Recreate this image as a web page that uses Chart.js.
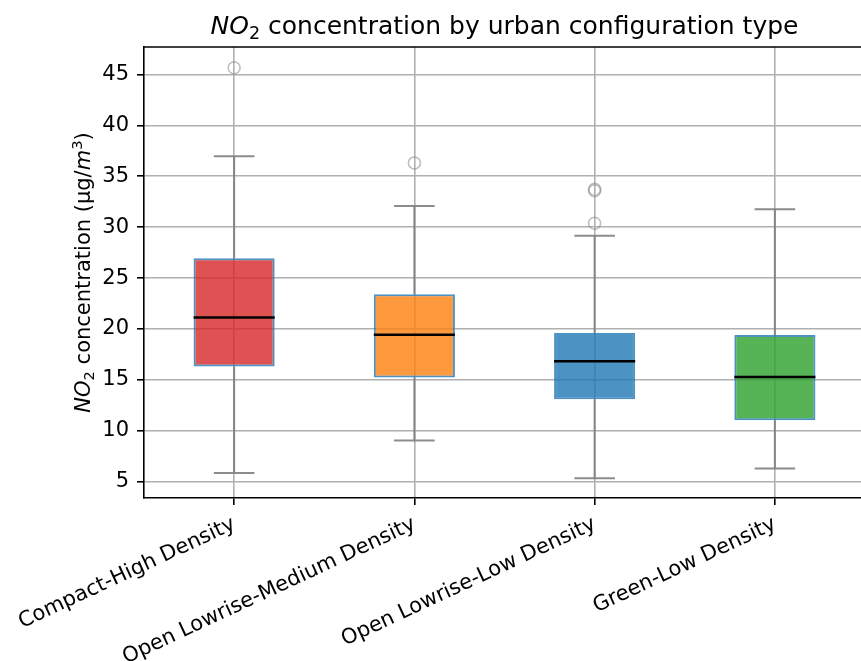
<!DOCTYPE html>
<html>
<head>
<meta charset="utf-8">
<script src="https://cdn.jsdelivr.net/npm/chart.js@4/dist/chart.umd.min.js"></script>
<style>
  html, body { margin: 0; padding: 0; background: #fff; overflow: hidden; }
  canvas { display: block; }
</style>
</head>
<body>
<canvas id="c" width="866" height="661" style="width:866px;height:661px"></canvas>
<script>
// NO2 concentration summary statistics per urban configuration type (µg/m³)
const categories = ['Compact-High Density', 'Open Lowrise-Medium Density', 'Open Lowrise-Low Density', 'Green-Low Density'];
const whiskerLow  = [5.85, 9.03, 5.32, 6.28];
const q1          = [16.31, 15.23, 13.10, 11.03];
const median      = [21.13, 19.42, 16.83, 15.29];
const q3          = [26.94, 23.40, 19.59, 19.40];
const whiskerHigh = [36.97, 32.08, 29.16, 31.76];
const outliers    = [[45.66], [36.31], [30.38, 33.58, 33.72], []];
const yTicks      = [5, 10, 15, 20, 25, 30, 35, 40, 45];

const boxColors = ['rgba(214,39,40,0.8)', 'rgba(255,127,14,0.8)', 'rgba(31,119,180,0.8)', 'rgba(44,160,44,0.8)'];
const FAMILY = "'DejaVu Sans'";

// Draw a line of mixed text runs (italic / subscript / superscript), centred on the origin.
function drawRuns(ctx, runs, size) {
  const fontFor = r => `${r.italic ? 'italic ' : ''}${(r.sub || r.sup) ? size * 0.7 : size}px ${FAMILY}`;
  let total = 0;
  runs.forEach(r => { ctx.font = fontFor(r); r.w = ctx.measureText(r.text).width; total += r.w; });
  let x = -total / 2;
  ctx.textAlign = 'left';
  ctx.textBaseline = 'alphabetic';
  runs.forEach(r => {
    ctx.font = fontFor(r);
    const dy = r.sub ? size * 0.2 : (r.sup ? -size * 0.38 : 0);
    ctx.fillText(r.text, x, dy);
    x += r.w;
  });
}

const boxDecor = {
  id: 'boxDecor',
  afterDatasetsDraw(chart) {
    const { ctx, chartArea, scales: { x, y } } = chart;
    const boxes = chart.getDatasetMeta(0).data;
    ctx.save();
    categories.forEach((c, i) => {
      const cx = x.getPixelForValue(i);
      const half = boxes[i].width / 2;
      const capHalf = half / 2;
      ctx.strokeStyle = 'rgba(128,128,128,0.9)';
      ctx.lineWidth = 2;
      ctx.beginPath();
      ctx.moveTo(cx, y.getPixelForValue(q1[i]));
      ctx.lineTo(cx, y.getPixelForValue(whiskerLow[i]));
      ctx.moveTo(cx, y.getPixelForValue(q3[i]));
      ctx.lineTo(cx, y.getPixelForValue(whiskerHigh[i]));
      ctx.moveTo(cx - capHalf, y.getPixelForValue(whiskerLow[i]));
      ctx.lineTo(cx + capHalf, y.getPixelForValue(whiskerLow[i]));
      ctx.moveTo(cx - capHalf, y.getPixelForValue(whiskerHigh[i]));
      ctx.lineTo(cx + capHalf, y.getPixelForValue(whiskerHigh[i]));
      ctx.stroke();
      ctx.strokeStyle = '#000';
      ctx.lineWidth = 2.5;
      ctx.beginPath();
      ctx.moveTo(cx - half, y.getPixelForValue(median[i]));
      ctx.lineTo(cx + half, y.getPixelForValue(median[i]));
      ctx.stroke();
    });
    // top spine
    ctx.strokeStyle = '#000';
    ctx.lineWidth = 1.6;
    ctx.beginPath();
    ctx.moveTo(chartArea.left, chartArea.top);
    ctx.lineTo(chartArea.right, chartArea.top);
    ctx.stroke();
    ctx.restore();
  },
  afterDraw(chart) {
    const { ctx, chartArea } = chart;
    ctx.save();
    ctx.fillStyle = '#000';
    ctx.translate((chartArea.left + chartArea.right) / 2, 34);
    drawRuns(ctx, [
      { text: 'NO', italic: true },
      { text: '2', sub: true },
      { text: ' concentration by urban configuration type' }
    ], 25);
    ctx.restore();

    ctx.save();
    ctx.fillStyle = '#000';
    ctx.translate(90, (chartArea.top + chartArea.bottom) / 2);
    ctx.rotate(-Math.PI / 2);
    drawRuns(ctx, [
      { text: 'NO', italic: true },
      { text: '2', sub: true },
      { text: ' concentration (μg/' },
      { text: 'm', italic: true },
      { text: '3', sup: true },
      { text: ')' }
    ], 21);
    ctx.restore();
  }
};

const axisGrid = { color: '#b0b0b0', lineWidth: 1.6, tickColor: '#000', tickLength: 7, tickWidth: 1.6, drawTicks: true };
const tickFont = { family: FAMILY, size: 21 };

new Chart(document.getElementById('c'), {
  data: {
    labels: categories,
    datasets: [
      {
        type: 'bar',
        data: categories.map((c, i) => [q1[i], q3[i]]),
        backgroundColor: boxColors,
        borderColor: 'rgba(31,119,180,0.8)',
        borderWidth: 2,
        borderSkipped: false,
        barPercentage: 0.45,
        categoryPercentage: 1,
        order: 2
      },
      {
        type: 'line',
        data: outliers.flatMap((vals, i) => vals.map(v => ({ x: categories[i], y: v }))),
        showLine: false,
        pointRadius: 6,
        pointBorderWidth: 1.6,
        pointBorderColor: 'rgba(128,128,128,0.5)',
        pointBackgroundColor: 'rgba(0,0,0,0)',
        order: 1
      }
    ]
  },
  options: {
    responsive: false,
    devicePixelRatio: 1,
    animation: false,
    layout: { autoPadding: false, padding: { top: 47, right: 1, left: 0, bottom: 0 } },
    plugins: { legend: { display: false }, tooltip: { enabled: false } },
    scales: {
      x: {
        type: 'category',
        offset: true,
        grid: Object.assign({ offset: false }, axisGrid),
        border: { color: '#000', width: 1.6 },
        ticks: { color: '#000', font: tickFont, minRotation: 25, maxRotation: 25, autoSkip: false, padding: 7 },
        afterFit(s) { s.height = 163; s.paddingLeft = 0; s.paddingRight = 0; }
      },
      y: {
        type: 'linear',
        min: 3.39,
        max: 47.70,
        afterBuildTicks(s) { s.ticks = yTicks.map(v => ({ value: v })); },
        grid: axisGrid,
        border: { color: '#000', width: 1.6 },
        ticks: { color: '#000', font: tickFont, padding: 8 },
        afterFit(s) { s.width = 144; s.paddingTop = 0; s.paddingBottom = 0; }
      }
    }
  },
  plugins: [boxDecor]
});
</script>
</body>
</html>
